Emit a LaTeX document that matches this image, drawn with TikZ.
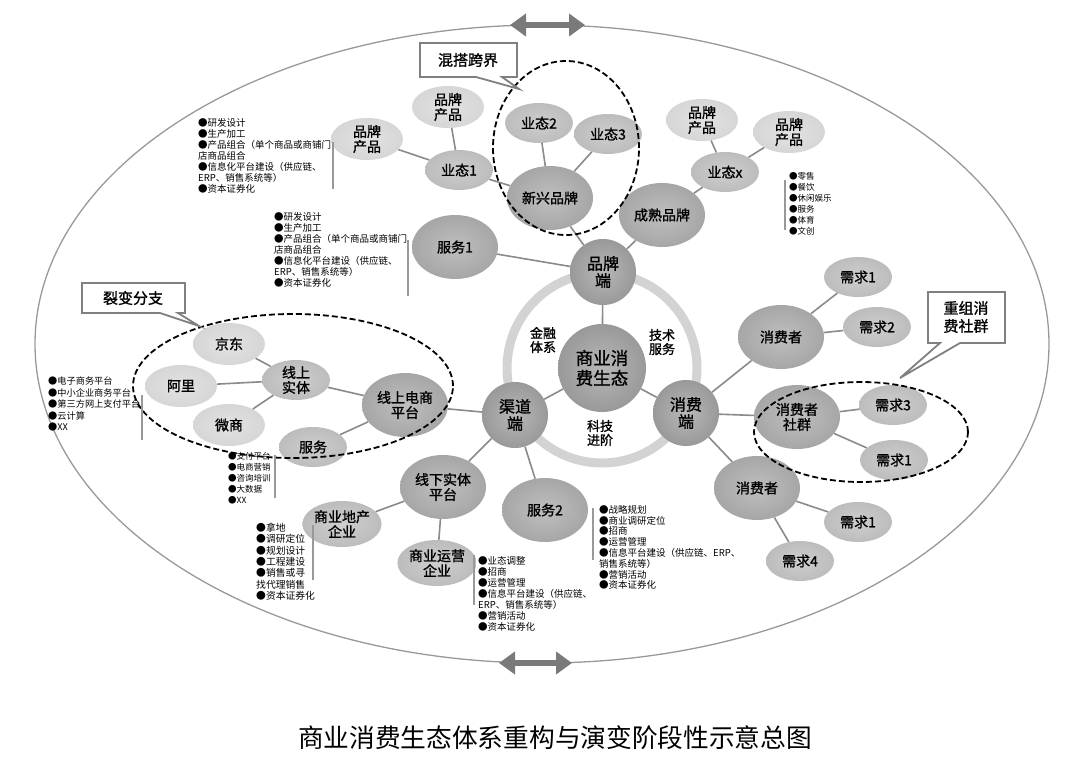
\documentclass[tikz,border=0pt]{standalone}
\usepackage{fontspec}
\setmainfont{Noto Sans CJK SC}
\newfontfamily\boldcjk{Noto Sans CJK SC}[FakeBold=1.2]
\usetikzlibrary{shapes.geometric,arrows.meta}
\definecolor{hubgray}{HTML}{999999}
\definecolor{gtwo}{HTML}{A6A6A6}
\definecolor{gthree}{HTML}{BCBCBC}
\definecolor{gfour}{HTML}{D6D6D6}
\definecolor{linegray}{HTML}{8A8A8A}
\definecolor{ringgray}{HTML}{D3D3D3}
\definecolor{framegray}{HTML}{999999}
\definecolor{arrowgray}{HTML}{7A7A7A}
\begin{document}
\begin{tikzpicture}[x=1pt,y=-1pt,
  conn/.style={draw=linegray,line width=1.6pt},
  bub/.style={ellipse,inner sep=0pt,align=center,font=\boldcjk\fontsize{14}{15}\selectfont},
  hubnode/.style={circle,inner sep=0pt,align=center,inner color=hubgray!70!white,outer color=hubgray,minimum size=64pt,font=\boldcjk\fontsize{16}{17}\selectfont},
  ltwo/.style={bub,inner color=gtwo!72!white,outer color=gtwo,minimum width=86pt,minimum height=64pt},
  lthree/.style={bub,inner color=gthree!72!white,outer color=gthree,minimum width=68pt,minimum height=40pt},
  lfour/.style={bub,inner color=gfour!70!white,outer color=gfour,minimum width=72pt,minimum height=42pt},
  lst/.style={anchor=north west,align=left,inner sep=0pt,font=\fontsize{9.5}{11}\selectfont},
  lsts/.style={lst,font=\fontsize{8.5}{11}\selectfont},
  bar/.style={draw=framegray,line width=1.8pt},
  dashring/.style={draw=black,line width=1.8pt,dash pattern=on 6pt off 3pt},
  callout/.style={draw=gray,line width=1.8pt,fill=white},
  calltext/.style={inner sep=0pt,align=center,font=\boldcjk\fontsize{15}{18}\selectfont},
  dblarrow/.style={draw=arrowgray,line width=6pt,{Triangle[length=16pt,width=22pt]}-{Triangle[length=16pt,width=22pt]}},
  midtext/.style={inner sep=0pt,align=center,font=\boldcjk\fontsize{13}{14}\selectfont}
]
\useasboundingbox (0,0) rectangle (1066,768);
\fill[white] (0,0) rectangle (1066,768);

% outer frame ellipse
\draw[draw=framegray,line width=1.3pt] (542,344) ellipse [x radius=507pt,y radius=319pt];
\coordinate (ta1) at (510,25);
\coordinate (ta2) at (585,25);
\draw[dblarrow] (ta1) -- (ta2);
\coordinate (ba1) at (499,663);
\coordinate (ba2) at (572,663);
\draw[dblarrow] (ba1) -- (ba2);

% ring
\draw[draw=ringgray,line width=9pt] (602,368) circle [radius=95pt];

% hubs
\node[hubnode,minimum size=88pt,font=\boldcjk\fontsize{17.5}{20}\selectfont] (hub) at (602,368) {商业消\\费生态};
\node[hubnode,minimum size=66pt] (ppd) at (603,272) {品牌\\端};
\node[hubnode,minimum size=66pt] (qdd) at (515,415) {渠道\\端};
\node[hubnode,minimum size=66pt] (xfd) at (686,413) {消费\\端};
\node[midtext] (jr) at (543,340) {金融\\体系};
\node[midtext] (js) at (662,342) {技术\\服务};
\node[midtext] (kj) at (600,433) {科技\\进阶};

% brand side
\node[ltwo] (fw1) at (455,247) {服务1};
\node[ltwo] (cs) at (662,215) {成熟品牌};
\node[ltwo] (xx) at (550,198) {新兴品牌};
\node[lthree] (yt2) at (539,123) {业态2};
\node[lthree] (yt3) at (608,134) {业态3};
\node[lthree] (yt1) at (459,170) {业态1};
\node[lfour] (ppa) at (367,139) {品牌\\产品};
\node[lfour] (ppb) at (448,107) {品牌\\产品};
\node[lthree] (ytx) at (725,172) {业态x};
\node[lfour] (ppc) at (702,120) {品牌\\产品};
\node[lfour] (ppe) at (789,132) {品牌\\产品};

% consumer side
\node[ltwo] (xfz1) at (781,337) {消费者};
\node[lthree] (xq1a) at (858,277) {需求1};
\node[lthree] (xq2) at (877,327) {需求2};
\node[ltwo] (sq) at (797,417) {消费者\\社群};
\node[lthree] (xq3) at (893,405) {需求3};
\node[lthree] (xq1b) at (894,460) {需求1};
\node[ltwo] (xfz2) at (757,488) {消费者};
\node[lthree] (xq1c) at (858,522) {需求1};
\node[lthree] (xq4) at (800,561) {需求4};

% channel side
\node[ltwo] (dsp) at (405,405) {线上电商\\平台};
\node[lthree] (xsst) at (296,380) {线上\\实体};
\node[lfour] (jd) at (229,344) {京东};
\node[lfour] (al) at (181,386) {阿里};
\node[lfour] (ws) at (229,425) {微商};
\node[lthree] (fw) at (313,447) {服务};
\node[ltwo] (xxst) at (443,487) {线下实体\\平台};
\node[lthree,minimum height=46pt] (dc) at (342,524) {商业地产\\企业};
\node[lthree,minimum height=46pt] (yy) at (437,563) {商业运营\\企业};
\node[ltwo] (fw2) at (545,510) {服务2};

% connectors
\draw[conn] (hub) -- (ppd);
\draw[conn] (hub) -- (qdd);
\draw[conn] (hub) -- (xfd);
\draw[conn] (ppd) -- (fw1);
\draw[conn] (ppd) -- (cs);
\draw[conn] (ppd) -- (xx);
\draw[conn] (xx) -- (yt2);
\draw[conn] (xx) -- (yt3);
\draw[conn] (xx) -- (yt1);
\draw[conn] (yt1) -- (ppa);
\draw[conn] (yt1) -- (ppb);
\draw[conn] (cs) -- (ytx);
\draw[conn] (ytx) -- (ppc);
\draw[conn] (ytx) -- (ppe);
\draw[conn] (xfd) -- (xfz1);
\draw[conn] (xfd) -- (sq);
\draw[conn] (xfd) -- (xfz2);
\draw[conn] (xfz1) -- (xq1a);
\draw[conn] (xfz1) -- (xq2);
\draw[conn] (sq) -- (xq3);
\draw[conn] (sq) -- (xq1b);
\draw[conn] (xfz2) -- (xq1c);
\draw[conn] (xfz2) -- (xq4);
\draw[conn] (qdd) -- (dsp);
\draw[conn] (qdd) -- (xxst);
\draw[conn] (qdd) -- (fw2);
\draw[conn] (dsp) -- (xsst);
\draw[conn] (dsp) -- (fw);
\draw[conn] (xsst) -- (jd);
\draw[conn] (xsst) -- (al);
\draw[conn] (xsst) -- (ws);
\draw[conn] (xxst) -- (dc);
\draw[conn] (xxst) -- (yy);

% dashed groups
\draw[dashring] (566,148) ellipse [x radius=73pt,y radius=87pt];
\draw[dashring] (293,386) ellipse [x radius=160pt,y radius=72pt];
\draw[dashring] (861,432) ellipse [x radius=107pt,y radius=50pt];

% callouts
\draw[callout] (420,43) -- (517,43) -- (517,77) -- (502,77) -- (519,89) -- (476,77) -- (420,77) -- cycle;
\node[calltext] (c1) at (468,60) {混搭跨界};
\draw[callout] (82,283) -- (185,283) -- (185,313) -- (178,313) -- (199,326) -- (160,313) -- (82,313) -- cycle;
\node[calltext] (c2) at (133,298) {裂变分支};
\draw[callout] (928,292) -- (1005,292) -- (1005,343) -- (960,343) -- (900,378) -- (940,343) -- (928,343) -- cycle;
\node[calltext] (c3) at (966,317) {重组消\\费社群};

% text lists with bars
\node[lst] (t1) at (198,118) {●研发设计\\●生产加工\\●产品组合（单个商品或商铺门\\店商品组合\\●信息化平台建设（供应链、\\ERP、销售系统等）\\●资本证券化};
\draw[bar] (333,142) -- (333,189);
\node[lst] (t2) at (274,212) {●研发设计\\●生产加工\\●产品组合（单个商品或商铺门\\店商品组合\\●信息化平台建设（供应链、\\ERP、销售系统等）\\●资本证券化};
\draw[bar] (408,240) -- (408,296);
\node[lsts] (t3) at (789,172) {●零售\\●餐饮\\●休闲娱乐\\●服务\\●体育\\●文创};
\draw[bar] (785,180) -- (785,230);
\node[lst,font=\fontsize{9.2}{11.5}\selectfont] (t4) at (48,377) {●电子商务平台\\●中小企业商务平台\\●第三方网上支付平台\\●云计算\\●XX};
\draw[bar] (142,395) -- (142,440);
\node[lsts] (t5) at (228,452) {●支付平台\\●电商营销\\●咨询培训\\●大数据\\●XX};
\draw[bar] (275,455) -- (275,498);
\node[lst,font=\fontsize{9.8}{11.3}\selectfont] (t6) at (256,523) {●拿地\\●调研定位\\●规划设计\\●工程建设\\●销售或寻\\找代理销售\\●资本证券化};
\draw[bar] (313,525) -- (313,580);
\node[lst] (t7) at (478,556) {●业态调整\\●招商\\●运营管理\\●信息平台建设（供应链、\\ERP、销售系统等）\\●营销活动\\●资本证券化};
\draw[bar] (474,555) -- (474,605);
\node[lst,font=\fontsize{9.5}{10.8}\selectfont] (t8) at (599,505) {●战略规划\\●商业调研定位\\●招商\\●运营管理\\●信息平台建设（供应链、ERP、\\销售系统等）\\●营销活动\\●资本证券化};
\draw[bar] (593,508) -- (593,560);

% title
\node[inner sep=0pt,font=\fontsize{25.7}{28}\selectfont] (title) at (555,738) {商业消费生态体系重构与演变阶段性示意总图};
\end{tikzpicture}
\end{document}
